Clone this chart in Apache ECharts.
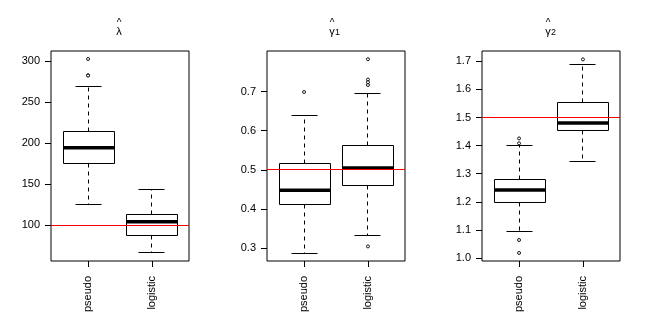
<!DOCTYPE html>
<html><head><meta charset="utf-8">
<script src="https://cdn.jsdelivr.net/npm/echarts@6/dist/echarts.min.js"></script>
<style>html,body{margin:0;padding:0;background:#fff}#c{width:646px;height:326px}</style>
</head><body><div id="c"></div>
<script>
const categories = ['pseudo', 'logistic'];

// each box: [low whisker, Q1, median, Q3, high whisker]
const lambdaBoxes = [[125.6, 175.6, 194.3, 214.6, 269.5], [65.9, 87.8, 104.0, 113.4, 143.9]];
const lambdaOutliers = [[302.4, 282.6, 282.2], []];
const lambdaTicks = [100, 150, 200, 250, 300];
const lambdaRange = [56.1, 312.2];
const lambdaTrue = 100;

const gamma1Boxes = [[0.287, 0.410, 0.448, 0.5165, 0.638], [0.331, 0.4587, 0.5047, 0.561, 0.696]];
const gamma1Outliers = [[0.699], [0.783, 0.731, 0.724, 0.717, 0.304]];
const gamma1Ticks = [0.3, 0.4, 0.5, 0.6, 0.7];
const gamma1Range = [0.2667, 0.804];
const gamma1True = 0.5;

const gamma2Boxes = [[1.096, 1.197, 1.242, 1.2797, 1.3986], [1.344, 1.4555, 1.4804, 1.5537, 1.690]];
const gamma2Outliers = [[1.4256, 1.408, 1.064, 1.018], [1.7068]];
const gamma2Ticks = [1.0, 1.1, 1.2, 1.3, 1.4, 1.5, 1.6, 1.7];
const gamma2Range = [0.9893, 1.7367];
const gamma2True = 1.5;

const FONT = '"Liberation Sans", Arial, sans-serif';
const panels = [
  {left: 51, boxes: lambdaBoxes, outliers: lambdaOutliers, ticks: lambdaTicks, range: lambdaRange, truth: lambdaTrue, dec: 0},
  {left: 267, boxes: gamma1Boxes, outliers: gamma1Outliers, ticks: gamma1Ticks, range: gamma1Range, truth: gamma1True, dec: 1},
  {left: 482, boxes: gamma2Boxes, outliers: gamma2Outliers, ticks: gamma2Ticks, range: gamma2Range, truth: gamma2True, dec: 1}
];
const PW = 138, PT = 51, PH = 210;

function snap(v) { return Math.round(v - 0.5) + 0.5; }

function renderBox(params, api) {
  const x = api.value(0);
  const cx = snap(api.coord([x, 0])[0]);
  const y = i => snap(api.coord([x, api.value(i)])[1]);
  const low = y(1), q1 = y(2), med = api.coord([x, api.value(3)])[1], q3 = y(4), high = y(5);
  const bw = Math.round(api.size([0.8, 0])[0]);
  const cw = Math.round(bw / 2);
  const bl = snap(cx - bw / 2), br = bl + bw;
  const dash = {stroke: '#000', lineWidth: 1, lineDash: [4, 4], fill: null};
  const solid = {stroke: '#000', lineWidth: 1, fill: null};
  return {
    type: 'group',
    children: [
      {type: 'line', shape: {x1: cx, y1: q1, x2: cx, y2: low}, style: dash},
      {type: 'line', shape: {x1: cx, y1: q3, x2: cx, y2: high}, style: dash},
      {type: 'line', shape: {x1: cx - cw / 2, y1: low, x2: cx + cw / 2, y2: low}, style: solid},
      {type: 'line', shape: {x1: cx - cw / 2, y1: high, x2: cx + cw / 2, y2: high}, style: solid},
      {type: 'rect', shape: {x: bl, y: q3, width: bw, height: q1 - q3}, style: {stroke: '#000', lineWidth: 1, fill: 'rgba(0,0,0,0)'}},
      {type: 'line', shape: {x1: bl, y1: med, x2: br, y2: med}, style: {stroke: '#000', lineWidth: 3.5}}
    ]
  };
}

function renderRef(params, api) {
  const cs = params.coordSys;
  const yy = snap(api.coord([1, api.value(0)])[1]);
  return {type: 'line', shape: {x1: cs.x, y1: yy, x2: cs.x + cs.width, y2: yy}, style: {stroke: '#ff0000', lineWidth: 1}};
}

const grid = [], xAxis = [], yAxis = [], series = [];
panels.forEach((p, i) => {
  grid.push({left: p.left, top: PT, width: PW, height: PH, show: true, borderColor: '#000', borderWidth: 1, backgroundColor: 'transparent', containLabel: false});
  xAxis.push({
    type: 'value', gridIndex: i, min: 0.42, max: 2.58,
    axisLine: {show: false}, splitLine: {show: false},
    axisTick: {show: true, customValues: [1, 2], length: 6, lineStyle: {color: '#000'}},
    axisLabel: {show: true, customValues: [1, 2], rotate: 90, margin: 15, color: '#000', fontSize: 11, fontFamily: FONT,
      formatter: v => categories[Math.round(v) - 1] || ''}
  });
  yAxis.push({
    type: 'value', gridIndex: i, min: p.range[0], max: p.range[1],
    axisLine: {show: false}, splitLine: {show: false},
    axisTick: {show: true, customValues: p.ticks, length: 6, lineStyle: {color: '#000'}},
    axisLabel: {show: true, customValues: p.ticks, margin: 11, color: '#000', fontSize: 11, fontFamily: FONT,
      formatter: v => Number(v).toFixed(p.dec)}
  });
  series.push({
    type: 'custom', xAxisIndex: i, yAxisIndex: i, renderItem: renderBox, silent: true, z: 2,
    data: p.boxes.map((b, k) => [k + 1].concat(b))
  });
  const pts = [];
  p.outliers.forEach((arr, k) => arr.forEach(v => pts.push([k + 1, v])));
  series.push({
    type: 'scatter', xAxisIndex: i, yAxisIndex: i, silent: true, symbol: 'circle', symbolSize: 3, z: 3,
    itemStyle: {color: '#fff', borderColor: '#000', borderWidth: 0.9, opacity: 1}, data: pts
  });
  series.push({
    type: 'custom', xAxisIndex: i, yAxisIndex: i, renderItem: renderRef, silent: true, z: 5,
    encode: {y: 0}, data: [[p.truth]]
  });
});

const titleStyle = {fill: '#000', font: '11px ' + FONT, align: 'center', verticalAlign: 'middle'};
const graphic = [
  {type: 'text', x: 119, y: 23, style: Object.assign({}, titleStyle, {text: '^', font: '10px ' + FONT})},
  {type: 'text', x: 119, y: 32, style: Object.assign({}, titleStyle, {text: 'λ'})},
  {type: 'text', x: 332, y: 23, style: Object.assign({}, titleStyle, {text: '^', font: '10px ' + FONT})},
  {type: 'text', x: 332, y: 32, style: Object.assign({}, titleStyle, {text: 'γ'})},
  {type: 'text', x: 337.5, y: 33, style: Object.assign({}, titleStyle, {text: '1', font: '9px ' + FONT})},
  {type: 'text', x: 548, y: 23, style: Object.assign({}, titleStyle, {text: '^', font: '10px ' + FONT})},
  {type: 'text', x: 548, y: 32, style: Object.assign({}, titleStyle, {text: 'γ'})},
  {type: 'text', x: 553.5, y: 33, style: Object.assign({}, titleStyle, {text: '2', font: '9px ' + FONT})}
];

const chart = echarts.init(document.getElementById('c'), null, {renderer: 'canvas'});
chart.setOption({animation: false, backgroundColor: '#fff', grid, xAxis, yAxis, series, graphic});
</script>
</body></html>
